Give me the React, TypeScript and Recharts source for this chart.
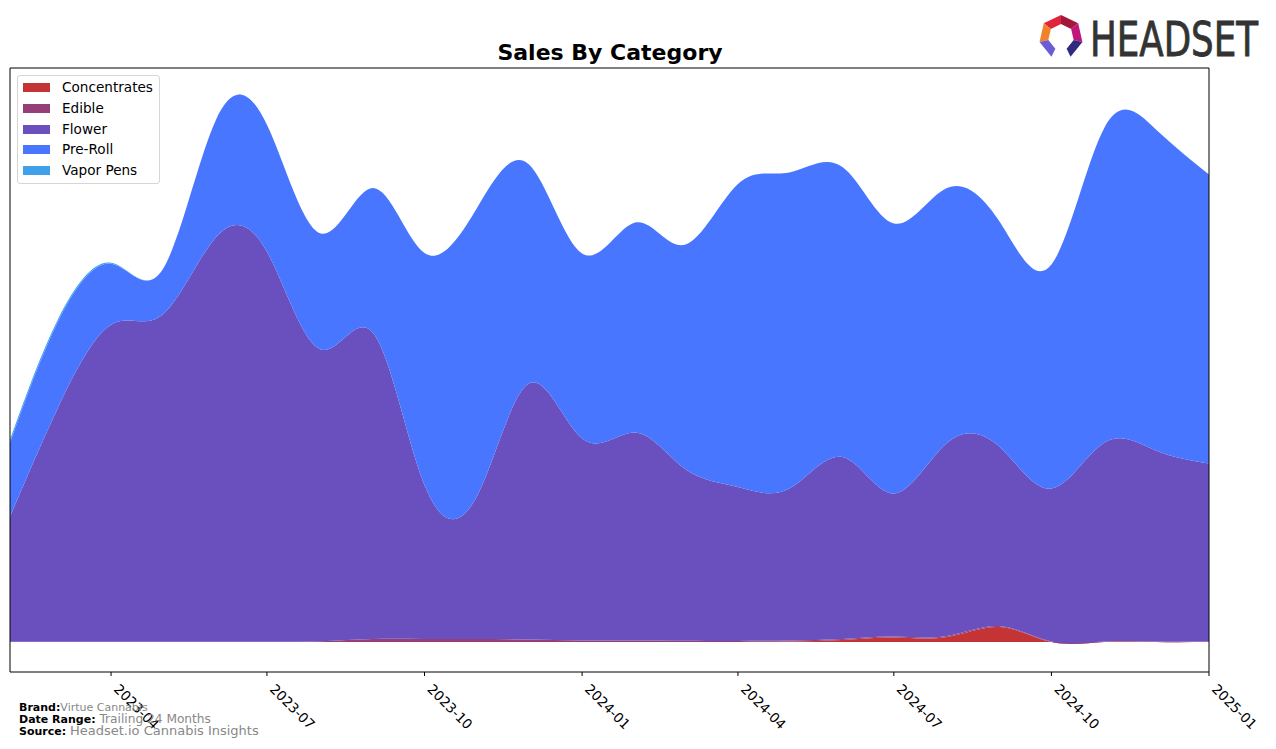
import React from 'react';
import { AreaChart, Area, XAxis, YAxis, ReferenceArea } from 'recharts';

const months = [
  '2023-02', '2023-03', '2023-04', '2023-05', '2023-06', '2023-07',
  '2023-08', '2023-09', '2023-10', '2023-11', '2023-12', '2024-01',
  '2024-02', '2024-03', '2024-04', '2024-05', '2024-06', '2024-07',
  '2024-08', '2024-09', '2024-10', '2024-11', '2024-12', '2025-01',
];
const concentrates = [0, 0, 0, 0, 0, 0, 0, 0, 0, 0, 0, 0, 0, 0, 0, 0.5, 2, 4.5, 5, 15, 0, 0, 0, 0];
const edible = [0.3, 0.3, 0.3, 0.3, 0.3, 0.3, 0.8, 3, 3, 3, 2.5, 1.5, 1.5, 1.2, 1, 1, 1, 1, 1, 0.8, 0.5, 0.5, 0.5, 0.5];
const flower = [125, 234, 317, 327, 404, 390, 292, 306, 154, 144, 256, 202, 208, 172, 154, 152, 182, 143, 193, 179, 153, 199, 191, 178];
const preRoll = [74, 86, 61, 45, 117, 127, 116, 145, 232, 288, 219, 185, 210, 224, 303, 316, 290, 270, 255, 225, 224, 315, 321, 289];
const vaporPens = [3, 2.5, 1, 0, 0, 0, 0, 0, 0, 0, 0, 0, 0, 0, 0, 0, 0, 0, 0, 0, 0, 0, 0, 0];
const tickLabels = ['2023-04', '2023-07', '2023-10', '2024-01', '2024-04', '2024-07', '2024-10', '2025-01'];

const seriesNames = ['Concentrates', 'Edible', 'Flower', 'Pre-Roll', 'Vapor Pens'];
const seriesColors = ['#c43434', '#963e78', '#6a4fbe', '#4876ff', '#40a0ea'];
const seriesValues = [concentrates, edible, flower, preRoll, vaporPens];

const toTs = (m: string) => {
  const [y, mo] = m.split('-').map(Number);
  return Date.UTC(y, mo - 1, 1);
};

const data = months.map((m, i) => {
  const row: any = { t: toTs(m) };
  seriesNames.forEach((n, k) => {
    row[n] = seriesValues[k][i];
  });
  return row;
});

const tickValues = tickLabels.map(toTs);
const xMin = toTs(months[0]);
const xMax = toTs(months[months.length - 1]);
const yDomain: [number, number] = [-30, 574];

const fmt = (v: number) => {
  const d = new Date(v);
  return `${d.getUTCFullYear()}-${String(d.getUTCMonth() + 1).padStart(2, '0')}`;
};

const FONT = '"DejaVu Sans", Verdana, sans-serif';

const Tick = (props: any) => {
  const { x, y, payload } = props;
  const px = x + 2;
  const py = y + 12;
  return (
    <text
      x={px}
      y={py}
      transform={`rotate(45 ${px} ${py})`}
      textAnchor="start"
      fontFamily={FONT}
      fontSize={13.6}
      fill="#000"
    >
      {fmt(payload.value)}
    </text>
  );
};

const Logo = () => {
  const cx = 1061;
  const cy = 37;
  const ro = 22;
  const ri = 13;
  const pt = (r: number, k: number) => {
    const a = (-90 + (360 / 7) * k) * (Math.PI / 180);
    return [cx + r * Math.cos(a), cy + r * Math.sin(a)];
  };
  const seg = (a: number, b: number) => {
    const p = [pt(ro, a), pt(ro, b), pt(ri, b), pt(ri, a)];
    return p.map((q) => q.join(',')).join(' ');
  };
  return (
    <g>
      <polygon points={seg(6, 7)} fill="#e0243c" />
      <polygon points={seg(0, 1)} fill="#a3173a" />
      <polygon points={seg(1, 2)} fill="#c2177a" />
      <polygon points={seg(5, 6)} fill="#f3812a" />
      <polygon points={seg(4, 5)} fill="#6a5bd6" />
      <polygon points={seg(2, 3)} fill="#2f2a80" />
      <text
        x={1090}
        y={56}
        fontFamily='"DejaVu Sans Condensed", "DejaVu Sans", sans-serif'
        fontSize={48}
        fill="#333333"
        stroke="#333333"
        strokeWidth={0.8}
        textLength={168}
        lengthAdjust="spacingAndGlyphs"
      >
        HEADSET
      </text>
    </g>
  );
};

export default function App() {
  return (
    <div style={{ position: 'absolute', left: 0, top: 0, width: 1276, height: 749, background: '#fff' }}>
      <AreaChart
        width={1276}
        height={749}
        data={data}
        margin={{ top: 68, right: 67, bottom: 47, left: 10 }}
      >
        <XAxis
          dataKey="t"
          type="number"
          domain={[xMin, xMax]}
          ticks={tickValues}
          interval={0}
          tick={<Tick />}
          tickLine={{ stroke: '#000' }}
          tickSize={4}
          axisLine={false}
          height={30}
          allowDataOverflow
        />
        <YAxis hide type="number" domain={yDomain} allowDataOverflow />
        {seriesNames.map((n, k) => (
          <Area
            key={n}
            dataKey={n}
            stackId="1"
            type="natural"
            fill={seriesColors[k]}
            fillOpacity={1}
            stroke="none"
            isAnimationActive={false}
            dot={false}
            activeDot={false}
          />
        ))}
        <ReferenceArea
          x1={xMin}
          x2={xMax}
          y1={yDomain[0]}
          y2={yDomain[1]}
          fill="none"
          fillOpacity={0}
          stroke="#000"
          strokeWidth={1}
          ifOverflow="visible"
        />
      </AreaChart>

      <svg
        width={1276}
        height={749}
        style={{ position: 'absolute', left: 0, top: 0, pointerEvents: 'none' }}
      >
        <text x={610} y={60} textAnchor="middle" fontFamily={FONT} fontWeight="bold" fontSize={22} fill="#000">
          Sales By Category
        </text>
        <Logo />
        <text x={19} y={711} fontFamily={FONT} fontSize={11}>
          <tspan fontWeight="bold" fill="#000">Brand:</tspan>
          <tspan fill="#888">Virtue Cannabis</tspan>
        </text>
        <text x={19} y={723} fontFamily={FONT} fontSize={11}>
          <tspan fontWeight="bold" fill="#000">Date Range: </tspan>
          <tspan fill="#888" fontSize={12.2}>Trailing 24 Months</tspan>
        </text>
        <text x={19} y={735} fontFamily={FONT} fontSize={11}>
          <tspan fontWeight="bold" fill="#000">Source: </tspan>
          <tspan fill="#888" fontSize={13}>Headset.io Cannabis Insights</tspan>
        </text>
      </svg>

      <div
        style={{
          position: 'absolute',
          left: 17,
          top: 75,
          width: 141,
          height: 107,
          border: '1px solid #d6d6d6',
          borderRadius: 3,
          background: 'rgba(255,255,255,0.8)',
          fontFamily: FONT,
          fontSize: 13.6,
          color: '#000',
        }}
      >
        {seriesNames.map((n, k) => (
          <div
            key={n}
            style={{ position: 'absolute', left: 0, top: 2 + k * 20.75, height: 20, width: 141 }}
          >
            <div
              style={{
                position: 'absolute',
                left: 5,
                top: 5,
                width: 27,
                height: 9,
                background: seriesColors[k],
              }}
            />
            <div style={{ position: 'absolute', left: 44, top: 1, whiteSpace: 'nowrap', lineHeight: '17px' }}>{n}</div>
          </div>
        ))}
      </div>
    </div>
  );
}
